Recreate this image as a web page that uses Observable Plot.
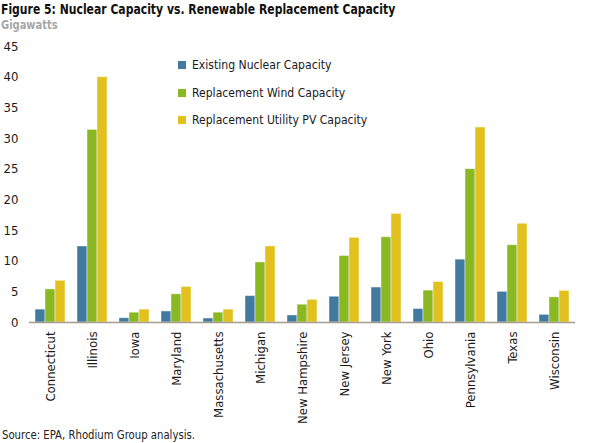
<!DOCTYPE html>
<html>
<head>
<meta charset="utf-8">
<script src="https://cdn.jsdelivr.net/npm/d3@7"></script>
<script src="https://cdn.jsdelivr.net/npm/@observablehq/plot@0.6"></script>
<style>
  body { margin: 0; background: #fff; font-family: "DejaVu Sans Condensed", "DejaVu Sans", sans-serif; }
  #wrap { position: relative; width: 597px; height: 443px; overflow: hidden; }
  .narrow { display: inline-block; white-space: nowrap; transform-origin: 0 50%; }
  .title { font-weight: bold; font-size: 13.7px; line-height: 18px; height: 18px; color: #111; padding-left: 1px; }
  .title .narrow { transform: scaleX(0.88); }
  .subtitle { font-weight: bold; font-size: 12px; line-height: 14px; height: 14px; color: #a6a6a6; padding-left: 1px; }
  .subtitle .narrow { transform: scaleX(0.92); }
  .caption { font-size: 13px; line-height: 16px; height: 16px; color: #222; padding-left: 2px; }
  .caption .narrow { transform: scaleX(0.865); }
  .legend { position: absolute; left: 178px; top: 57px; font-size: 13px; color: #1a1a1a; }
  .legend .row { height: 27.5px; line-height: 16px; display: flex; align-items: flex-start; white-space: nowrap; }
  .legend .sw { display: inline-block; width: 8px; height: 8px; margin: 4px 6px 0 0; flex: none; }
  .legend .narrow { transform: scaleX(0.93); }
</style>
</head>
<body>
<div id="wrap">
  <div class="title"><span class="narrow">Figure 5: Nuclear Capacity vs. Renewable Replacement Capacity</span></div>
  <div class="subtitle"><span class="narrow">Gigawatts</span></div>
  <div id="chart"></div>
  <div class="caption"><span class="narrow">Source: EPA, Rhodium Group analysis.</span></div>
  <div class="legend" id="legend"></div>
</div>
<script>
const states = ["Connecticut", "Illinois", "Iowa", "Maryland", "Massachusetts", "Michigan", "New Hampshire", "New Jersey", "New York", "Ohio", "Pennsylvania", "Texas", "Wisconsin"];
const seriesNames = ["Existing Nuclear Capacity", "Replacement Wind Capacity", "Replacement Utility PV Capacity"];
const seriesColors = ["#41799f", "#8ab820", "#e2c11e"];
const nuclear = [2.1, 12.4, 0.7, 1.8, 0.65, 4.3, 1.15, 4.2, 5.7, 2.2, 10.25, 5.0, 1.25];
const wind = [5.4, 31.4, 1.6, 4.6, 1.6, 9.8, 2.9, 10.85, 13.9, 5.2, 25.0, 12.6, 4.1];
const solar = [6.8, 40.0, 2.1, 5.8, 2.1, 12.4, 3.7, 13.8, 17.7, 6.6, 31.8, 16.1, 5.15];
const yTicks = [0, 5, 10, 15, 20, 25, 30, 35, 40, 45];

const seriesValues = [nuclear, wind, solar];
const data = [];
states.forEach((s, i) => {
  seriesNames.forEach((n, j) => data.push({state: s, series: n, value: seriesValues[j][i]}));
});

const axisColor = "#a59d8f";

const chart = Plot.plot({
  width: 597,
  height: 395,
  marginLeft: 26,
  marginRight: 19,
  marginTop: 14,
  marginBottom: 105,
  style: {fontFamily: "'DejaVu Sans Condensed', 'DejaVu Sans', sans-serif", fontSize: "13px", color: "#1a1a1a", background: "#fff"},
  fx: {domain: states, padding: 0, label: null, tickSize: 0, tickPadding: 9, tickRotate: -90},
  x: {domain: seriesNames, paddingInner: 0, paddingOuter: 0.5, axis: null},
  y: {domain: [0, 45], axis: null},
  color: {domain: seriesNames, range: seriesColors},
  marks: [
    Plot.barY(data, {fx: "state", x: "series", y: "value", fill: "series", stroke: "#fff", strokeOpacity: 0.45, strokeWidth: 1}),
    Plot.ruleY([0], {stroke: axisColor, strokeWidth: 1.5}),
    Plot.axisY({ticks: yTicks, tickSize: 0, tickPadding: 11, label: null, line: true, stroke: axisColor, strokeWidth: 1.5, fill: "#1a1a1a"})
  ]
});
chart.style.display = "block";
document.getElementById("chart").appendChild(chart);

const legend = document.getElementById("legend");
seriesNames.forEach((n, j) => {
  const row = document.createElement("div");
  row.className = "row";
  const sw = document.createElement("span");
  sw.className = "sw";
  sw.style.background = seriesColors[j];
  const label = document.createElement("span");
  label.className = "narrow";
  label.textContent = n;
  row.appendChild(sw);
  row.appendChild(label);
  legend.appendChild(row);
});
</script>
</body>
</html>
